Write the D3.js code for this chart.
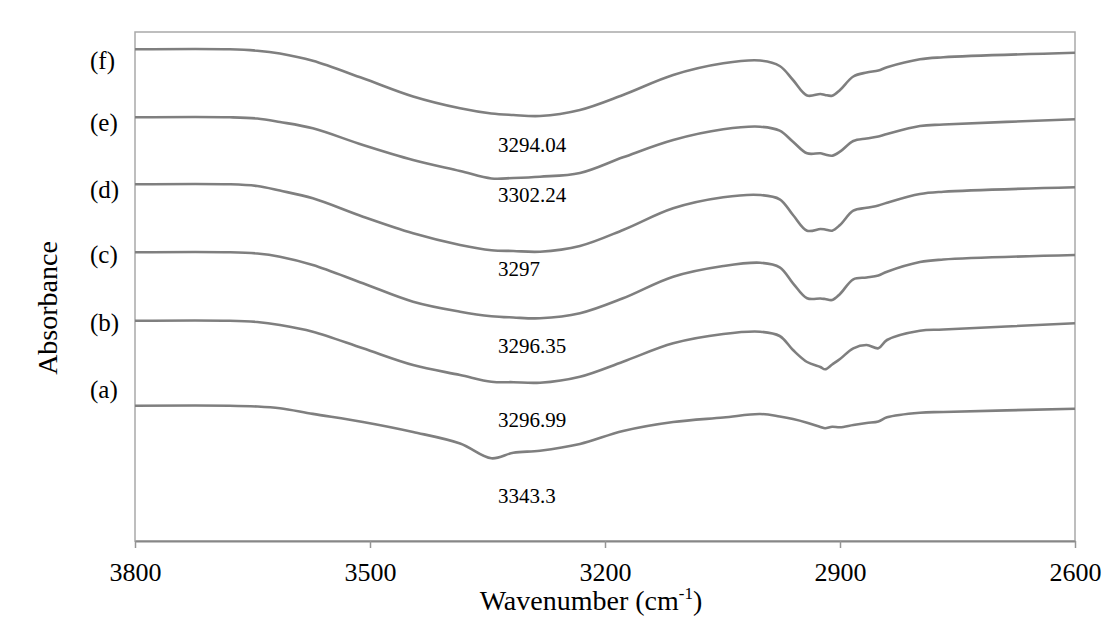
<!DOCTYPE html>
<html>
<head>
<meta charset="utf-8">
<script src="https://cdn.jsdelivr.net/npm/d3@7"></script>
<style>
  html, body { margin: 0; padding: 0; background: #fff; }
  svg { display: block; }
  text { font-family: "Liberation Serif", "Times New Roman", Times, serif; fill: #000; }
</style>
</head>
<body>
<svg id="chart" width="1107" height="619"></svg>
<script>
// ---- data ----
const wavenumbers = [3800, 3679, 3644, 3615, 3573, 3509, 3445, 3385, 3345, 3317, 3283, 3232, 3177, 3113, 3049, 3002, 2977, 2960, 2942, 2925, 2919, 2910, 2900, 2883, 2866, 2851, 2840, 2798, 2768, 2600];

const seriesA = [1.353, 1.353, 1.345, 1.327, 1.271, 1.19, 1.09, 0.975, 0.827, 0.883, 0.903, 0.97, 1.10, 1.19, 1.235, 1.27, 1.245, 1.22, 1.183, 1.14, 1.127, 1.143, 1.137, 1.16, 1.18, 1.195, 1.237, 1.283, 1.29, 1.323];
const seriesB = [2.203, 2.203, 2.19, 2.16, 2.093, 1.927, 1.76, 1.66, 1.593, 1.588, 1.583, 1.643, 1.793, 1.977, 2.07, 2.093, 2.05, 1.91, 1.79, 1.74, 1.717, 1.765, 1.82, 1.927, 1.96, 1.927, 2.01, 2.103, 2.115, 2.177];
const seriesC = [2.887, 2.887, 2.875, 2.843, 2.76, 2.577, 2.393, 2.293, 2.248, 2.235, 2.227, 2.277, 2.427, 2.643, 2.75, 2.783, 2.737, 2.577, 2.427, 2.425, 2.42, 2.41, 2.47, 2.617, 2.635, 2.655, 2.693, 2.79, 2.815, 2.86];
const seriesD = [3.567, 3.567, 3.55, 3.504, 3.427, 3.243, 3.077, 2.96, 2.908, 2.90, 2.893, 2.95, 3.11, 3.327, 3.437, 3.46, 3.417, 3.26, 3.103, 3.12, 3.115, 3.103, 3.16, 3.303, 3.332, 3.355, 3.383, 3.47, 3.493, 3.537];
const seriesE = [4.237, 4.237, 4.225, 4.19, 4.127, 3.96, 3.81, 3.70, 3.625, 3.63, 3.643, 3.68, 3.837, 4.01, 4.117, 4.143, 4.103, 3.993, 3.877, 3.877, 3.865, 3.853, 3.893, 4.00, 4.025, 4.045, 4.07, 4.15, 4.165, 4.217];
const seriesF = [4.917, 4.917, 4.903, 4.875, 4.802, 4.627, 4.445, 4.327, 4.275, 4.26, 4.25, 4.31, 4.46, 4.66, 4.777, 4.805, 4.75, 4.61, 4.455, 4.47, 4.46, 4.453, 4.51, 4.645, 4.685, 4.705, 4.737, 4.817, 4.837, 4.883];

const seriesNames = ["(a)", "(b)", "(c)", "(d)", "(e)", "(f)"];
const peakLabels = ["3343.3", "3296.99", "3296.35", "3297", "3302.24", "3294.04"];
const xTicks = [3800, 3500, 3200, 2900, 2600];

// ---- layout ----
const FONT = "'Liberation Serif', 'Times New Roman', Times, serif";
const svg = d3.select("#chart");
const plotLeft = 135, plotRight = 1075, plotTop = 32, plotBottom = 541;
const x = d3.scaleLinear().domain([3800, 2600]).range([plotLeft, plotRight]);
const y = d3.scaleLinear().domain([0, 5.09]).range([plotBottom, plotTop]);

svg.append("rect").attr("width", 1107).attr("height", 619).attr("fill", "#fff");

// plot frame
svg.append("rect")
  .attr("x", plotLeft).attr("y", plotTop)
  .attr("width", plotRight - plotLeft).attr("height", plotBottom - plotTop)
  .attr("fill", "none").attr("stroke", "#a9a9a9").attr("stroke-width", 1.5);

// x axis
const xAxis = d3.axisBottom(x).tickValues(xTicks).tickSize(7).tickSizeOuter(0).tickFormat(d3.format("d"));
const gx = svg.append("g").attr("transform", `translate(0,${plotBottom})`).call(xAxis);
gx.attr("font-family", FONT);
gx.select(".domain").attr("stroke", "#878787").attr("stroke-width", 2);
gx.selectAll(".tick line").attr("stroke", "#959595").attr("stroke-width", 1.5);
gx.selectAll(".tick text")
  .attr("y", 40).attr("dy", null)
  .attr("font-size", 26)
  .attr("font-family", FONT)
  .attr("fill", "#000");

// lines
const allSeries = [seriesA, seriesB, seriesC, seriesD, seriesE, seriesF];
const line = d3.line()
  .x((d, i) => x(wavenumbers[i]))
  .y(d => y(d))
  .curve(d3.curveCatmullRom.alpha(0.5));

svg.append("g").selectAll("path")
  .data(allSeries)
  .join("path")
  .attr("d", d => line(d))
  .attr("fill", "none")
  .attr("stroke", "#7f7f7f")
  .attr("stroke-width", 2.6)
  .attr("stroke-linejoin", "round");

// series labels
const seriesLabelBaseline = [398, 331, 263, 198, 131, 68.5];
svg.append("g").selectAll("text")
  .data(seriesNames)
  .join("text")
  .attr("x", 90)
  .attr("y", (d, i) => seriesLabelBaseline[i])
  .attr("font-family", FONT)
  .attr("font-size", 25)
  .text(d => d);

// peak annotations
const peakBaseline = [503, 427, 353, 275.5, 202, 152];
svg.append("g").selectAll("text")
  .data(peakLabels)
  .join("text")
  .attr("x", 498)
  .attr("y", (d, i) => peakBaseline[i])
  .attr("font-family", FONT)
  .attr("font-size", 21)
  .text(d => d);

// axis titles
svg.append("text")
  .attr("transform", "translate(57,308) rotate(-90)")
  .attr("text-anchor", "middle")
  .attr("font-family", FONT)
  .attr("font-size", 28)
  .text("Absorbance");

const xt = svg.append("text")
  .attr("x", 591).attr("y", 610)
  .attr("text-anchor", "middle")
  .attr("font-family", FONT)
  .attr("font-size", 28);
xt.append("tspan").text("Wavenumber (cm");
xt.append("tspan").attr("font-size", 17).attr("dy", -11).text("-1");
xt.append("tspan").attr("dy", 11).text(")");
</script>
</body>
</html>
